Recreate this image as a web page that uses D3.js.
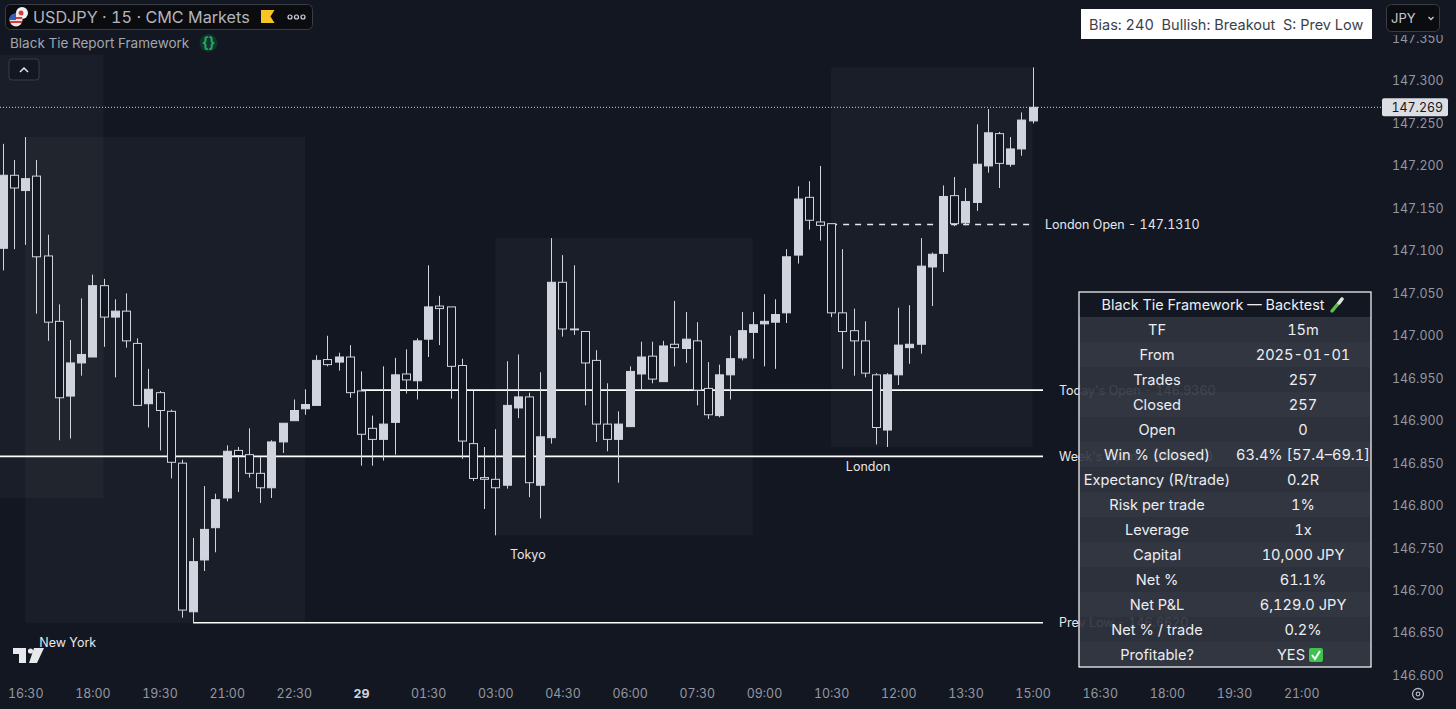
<!DOCTYPE html>
<html lang="en">
<head>
<meta charset="utf-8">
<script src="https://d3js.org/d3.v7.min.js"></script>
<style>
    html, body { margin: 0; padding: 0; background: #131722; overflow: hidden; }
    text { font-family: Inter, "Noto Sans", sans-serif; font-variant-numeric: tabular-nums; }
</style>
</head>
<body>
<div id="chart"></div>
<script>
// 15 minute bars, first one sits two bars left of the 16:30 tick
var firstBar = -2;
var opens = [
    147.103,147.189,147.171,147.188,147.094,147.017,146.929,146.968,146.975,147.059,
    147.022,147.029,146.991,146.920,146.933,146.911,146.850,146.675,146.736,146.774,
    146.809,146.865,146.860,146.838,146.821,146.875,146.900,146.914,146.918,146.972,
    146.969,146.975,146.935,146.891,146.878,146.898,146.955,146.947,146.996,147.035,
    147.034,146.965,146.873,146.833,146.831,146.824,146.915,146.928,146.824,146.880,
    147.063,147.008,147.005,146.971,146.896,146.878,146.893,146.955,146.976,146.946,
    146.990,146.985,146.994,146.938,146.906,146.954,146.974,147.004,147.014,147.016,
    147.027,147.095,147.163,147.134,147.132,147.027,147.006,146.994,146.954,146.889,
    146.954,146.986,146.990,147.081,147.097,147.165,147.133,147.157,147.200,147.238,
    147.202,147.220,147.253];
var highs = [
    147.226,147.207,147.234,147.207,147.119,147.037,146.995,147.044,147.072,147.067,
    147.043,147.050,146.997,146.961,146.935,146.913,146.854,146.762,146.823,146.814,
    146.871,146.869,146.891,146.857,146.877,146.897,146.925,146.937,146.977,147.000,
    146.980,146.989,146.958,146.906,146.964,146.974,146.984,146.997,147.083,147.047,
    147.034,146.973,146.935,146.869,146.890,146.970,146.978,146.933,146.957,147.115,
    147.095,147.083,147.005,146.983,146.944,146.911,146.964,146.993,146.993,146.994,
    147.041,147.028,147.016,146.969,146.966,147.000,147.028,147.028,147.049,147.043,
    147.102,147.176,147.182,147.200,147.132,147.102,147.032,147.017,146.956,146.956,
    147.033,147.036,147.115,147.098,147.177,147.187,147.174,147.249,147.267,147.240,
    147.234,147.263,147.316];
var lows = [
    147.077,147.102,147.107,147.026,146.994,146.877,146.879,146.953,146.975,146.987,
    146.951,146.986,146.918,146.892,146.865,146.832,146.668,146.662,146.723,146.745,
    146.805,146.816,146.833,146.803,146.809,146.862,146.900,146.907,146.918,146.964,
    146.959,146.927,146.847,146.847,146.853,146.860,146.932,146.925,146.975,146.989,
    146.926,146.855,146.829,146.796,146.765,146.820,146.903,146.810,146.785,146.873,
    146.999,147.001,146.918,146.875,146.864,146.827,146.893,146.936,146.944,146.946,
    146.964,146.968,146.918,146.902,146.904,146.925,146.971,146.973,146.964,146.961,
    147.015,147.085,147.125,147.112,147.022,146.961,146.953,146.951,146.872,146.869,
    146.942,146.967,146.979,147.035,147.075,147.129,147.130,147.147,147.192,147.174,
    147.199,147.212,147.250];
var closes = [
    147.189,147.174,147.185,147.093,147.016,146.927,146.968,146.978,147.059,147.022,
    147.029,146.994,146.918,146.937,146.912,146.851,146.677,146.734,146.772,146.807,
    146.864,146.859,146.838,146.821,146.875,146.897,146.912,146.919,146.971,146.966,
    146.975,146.933,146.884,146.878,146.896,146.954,146.948,146.994,147.034,147.032,
    146.964,146.876,146.832,146.831,146.821,146.918,146.928,146.827,146.881,147.063,
    147.008,147.007,146.968,146.896,146.878,146.896,146.958,146.975,146.949,146.988,
    146.986,146.996,146.936,146.907,146.954,146.973,147.006,147.013,147.017,147.025,
    147.093,147.161,147.136,147.130,147.027,147.005,146.994,146.956,146.892,146.954,
    146.989,146.990,147.082,147.096,147.164,147.132,147.158,147.202,147.239,147.203,
    147.220,147.254,147.269];

// sessions: bar range and price range of each shaded box
var sessionNames = ["", "New York", "Tokyo", "London"];
var sessionStart = [-3, 0, 42, 72];
var sessionEnd = [7, 25, 65, 90];
var sessionHigh = [147.331, 147.234, 147.115, 147.316];
var sessionLow = [146.809, 146.662, 146.765, 146.869];
var sessionLabelBar = [0, 3.8, 44.9, 75.3];

// horizontal levels
var levelNames = ["Today's Open - 146.9360", "Week's Open - 146.8580", "Prev Low - 146.6620"];
var levelPrice = [146.936, 146.858, 146.662];
var levelStart = [30, -3, 15];
var londonOpenPrice = 147.131;
var lastPrice = 147.269;

var priceTicks = [147.35,147.3,147.25,147.2,147.15,147.1,147.05,147,146.95,146.9,146.85,146.8,146.75,146.7,146.65,146.6];
var timeBars = [0,6,12,18,24,30,36,42,48,54,60,66,72,78,84,90,96,102,108,114];
var timeLabels = ["16:30","18:00","19:30","21:00","22:30","29","01:30","03:00","04:30","06:00","07:30","09:00","10:30","12:00","13:30","15:00","16:30","18:00","19:30","21:00"];

var tableTitle = "Black Tie Framework \u2014 Backtest";
var tableLabels = ["TF","From","Trades","Closed","Open","Win % (closed)","Expectancy (R/trade)","Risk per trade","Leverage","Capital","Net %","Net P&L","Net % / trade","Profitable?"];
var tableValues = ["15m","2025-01-01","257","257","0","63.4% [57.4\u201369.1]","0.2R","1%","1x","10,000 JPY","61.1%","6,129.0 JPY","0.2%","YES"];

var width = 1456, height = 709;
var bg = "#131722", candle = "#d1d4dc", axisText = "#9598a1";

var svg = d3.select("#chart").append("svg")
    .attr("width", width)
    .attr("height", height)
    .style("display", "block");

var x = d3.scaleLinear().domain([0, 90]).range([25.2, 1032.6]);
var y = d3.scaleLinear().domain([147.3, 146.65]).range([81, 633]);

svg.append("rect").attr("width", width).attr("height", height).attr("fill", bg);

// session boxes
svg.append("g").selectAll("rect")
    .data(sessionNames)
    .enter().append("rect")
    .attr("x", function(d, i) { return x(sessionStart[i]); })
    .attr("width", function(d, i) { return x(sessionEnd[i]) - x(sessionStart[i]); })
    .attr("y", function(d, i) { return y(sessionHigh[i]); })
    .attr("height", function(d, i) { return y(sessionLow[i]) - y(sessionHigh[i]); })
    .attr("fill", "#ffffff")
    .attr("fill-opacity", 0.032);

svg.append("g").selectAll("text")
    .data(sessionNames)
    .enter().append("text")
    .attr("x", function(d, i) { return x(sessionLabelBar[i]); })
    .attr("y", function(d, i) { return y(sessionLow[i]) + 24; })
    .attr("text-anchor", "middle")
    .attr("fill", "#e6e7ea")
    .style("font-size", "12.5px")
    .text(function(d) { return d; });

// level lines sit behind the candles
var levels = svg.append("g");
levelNames.forEach(function(name, i) {
    levels.append("line")
        .attr("x1", x(levelStart[i])).attr("x2", 1043)
        .attr("y1", y(levelPrice[i])).attr("y2", y(levelPrice[i]))
        .attr("stroke", "#ffffff").attr("stroke-width", 1.6);
    levels.append("text")
        .attr("x", 1059).attr("y", y(levelPrice[i]) + 4.5)
        .attr("fill", "#e6e7ea")
        .style("font-size", "12.5px")
        .text(name);
});
levels.append("line")
    .attr("x1", x(72)).attr("x2", x(90))
    .attr("y1", y(londonOpenPrice)).attr("y2", y(londonOpenPrice))
    .attr("stroke", "#e6e7ea").attr("stroke-width", 1.4)
    .attr("stroke-dasharray", "6 6");
levels.append("text")
    .attr("x", 1045).attr("y", y(londonOpenPrice) + 4.5)
    .attr("fill", "#e6e7ea")
    .style("font-size", "12.5px")
    .text("London Open - 147.1310");

// last price
svg.append("line")
    .attr("x1", 0).attr("x2", 1382)
    .attr("y1", y(lastPrice)).attr("y2", y(lastPrice))
    .attr("stroke", "#d1d4dc").attr("stroke-width", 1)
    .attr("stroke-dasharray", "1 2");

// candles
var bars = svg.append("g").selectAll("g")
    .data(opens)
    .enter().append("g");

bars.append("line")
    .attr("x1", function(d, i) { return Math.round(x(i + firstBar)) + 0.5; })
    .attr("x2", function(d, i) { return Math.round(x(i + firstBar)) + 0.5; })
    .attr("y1", function(d, i) { return y(highs[i]); })
    .attr("y2", function(d, i) { return y(lows[i]); })
    .attr("stroke", candle);

bars.append("rect")
    .attr("x", function(d, i) { return Math.round(x(i + firstBar)) - 3.5; })
    .attr("width", 8)
    .attr("y", function(d, i) { return y(Math.max(d, closes[i])); })
    .attr("height", function(d, i) { return Math.abs(y(d) - y(closes[i])); })
    .attr("fill", function(d, i) { return closes[i] >= d ? candle : bg; })
    .attr("stroke", candle)
    .attr("stroke-width", 1);

// price axis, top and bottom labels are cut by the dropdown and the time axis
svg.append("clipPath").attr("id", "priceClip")
    .append("rect").attr("x", -12).attr("y", 35).attr("width", 76).attr("height", 645);

var yAxis = svg.append("g")
    .attr("transform", "translate(1392,0)")
    .attr("clip-path", "url(#priceClip)")
    .call(d3.axisRight(y).tickValues(priceTicks).tickFormat(d3.format(".3f")).tickSize(0).tickPadding(0));
yAxis.select(".domain").remove();
yAxis.selectAll("text")
    .attr("fill", axisText)
    .style("font-size", "12.4px")
    .style("font-family", "Inter, sans-serif")
    .style("font-variant-numeric", "tabular-nums");

// time axis
var xAxis = svg.append("g")
    .attr("transform", "translate(0,689)")
    .call(d3.axisBottom(x).tickValues(timeBars)
        .tickFormat(function(d, i) { return timeLabels[i]; })
        .tickSize(0).tickPadding(0));
xAxis.select(".domain").remove();
xAxis.selectAll("text")
    .attr("fill", function(d) { return d === 30 ? "#d1d4dc" : axisText; })
    .style("font-size", "12.4px")
    .style("font-weight", function(d) { return d === 30 ? 700 : 400; })
    .style("font-family", "Inter, sans-serif")
    .style("font-variant-numeric", "tabular-nums");

// price tag
svg.append("rect")
    .attr("x", 1382).attr("y", y(lastPrice) - 9).attr("width", 66).attr("height", 18)
    .attr("rx", 2).attr("fill", "#dcdee3");
svg.append("text")
    .attr("x", 1443).attr("y", y(lastPrice) + 4.5)
    .attr("text-anchor", "end")
    .attr("fill", "#131722")
    .style("font-size", "12.4px")
    .text(d3.format(".3f")(lastPrice));

// backtest table
var table = svg.append("g").attr("transform", "translate(1079,292)");
var rowH = 25;
table.append("rect")
    .attr("width", 292).attr("height", 25)
    .attr("fill", "#131722");
table.selectAll(".row")
    .data(tableLabels)
    .enter().append("rect")
    .attr("class", "row")
    .attr("y", function(d, i) { return 25 + i * rowH; })
    .attr("width", 292).attr("height", rowH)
    .attr("fill", function(d, i) { return i % 2 ? "#353944" : "#30343f"; })
    .attr("fill-opacity", 0.92);
table.append("rect")
    .attr("width", 292).attr("height", 375)
    .attr("fill", "none").attr("stroke", "#ffffff").attr("stroke-width", 1.2);
table.append("text")
    .attr("x", 134).attr("y", 18)
    .attr("text-anchor", "middle")
    .attr("fill", "#eceef1")
    .style("font-size", "14.4px")
    .text(tableTitle);
// test tube icon after the title
table.append("line")
    .attr("x1", 253).attr("y1", 19).attr("x2", 263).attr("y2", 7)
    .attr("stroke", "#5fbf4a").attr("stroke-width", 3.4).attr("stroke-linecap", "round");
table.append("line")
    .attr("x1", 260).attr("y1", 11).attr("x2", 263).attr("y2", 7)
    .attr("stroke", "#dfe5e0").attr("stroke-width", 3.4).attr("stroke-linecap", "round");

table.selectAll(".lab")
    .data(tableLabels)
    .enter().append("text")
    .attr("class", "lab")
    .attr("x", 78).attr("y", function(d, i) { return 25 + i * rowH + 18; })
    .attr("text-anchor", "middle")
    .attr("fill", "#eceef1")
    .style("font-size", "14.6px")
    .text(function(d) { return d; });
table.selectAll(".val")
    .data(tableValues)
    .enter().append("text")
    .attr("class", "val")
    .attr("x", function(d, i) { return i === 13 ? 212 : 224; })
    .attr("y", function(d, i) { return 25 + i * rowH + 18; })
    .attr("text-anchor", "middle")
    .attr("fill", "#eceef1")
    .style("font-size", "14.6px")
    .text(function(d) { return d; });
// green check
table.append("rect")
    .attr("x", 230).attr("y", 356).attr("width", 14).attr("height", 14)
    .attr("rx", 2).attr("fill", "#3fc14f");
table.append("path")
    .attr("d", "M233,363 L236,367 L241,359")
    .attr("fill", "none").attr("stroke", "#ffffff").attr("stroke-width", 2);

// bias box
svg.append("rect")
    .attr("x", 1081).attr("y", 9).attr("width", 291).attr("height", 30)
    .attr("fill", "#ffffff");
svg.append("text")
    .attr("x", 1089).attr("y", 30)
    .attr("fill", "#3c3f4a")
    .style("font-size", "14.5px")
    .style("white-space", "pre")
    .text("Bias: 240  Bullish: Breakout  S: Prev Low");

// currency dropdown
svg.append("rect")
    .attr("x", 1386.5).attr("y", 4.5).attr("width", 53).attr("height", 27).attr("rx", 5)
    .attr("fill", "#0b0c0f").attr("stroke", "#3a3d45");
svg.append("text")
    .attr("x", 1391).attr("y", 23)
    .attr("fill", "#c8cad0")
    .style("font-size", "13px")
    .text("JPY");
svg.append("path")
    .attr("d", "M1439.5,17 m-11,0 l2.5,2.5 l2.5,-2.5")
    .attr("fill", "none").attr("stroke", "#c8cad0").attr("stroke-width", 1.3);

// symbol header
svg.append("rect")
    .attr("x", 5.5).attr("y", 4.5).attr("width", 307).attr("height", 25).attr("rx", 5)
    .attr("fill", "#0b0c0f").attr("stroke", "#3a3d45");
svg.append("circle").attr("cx", 22).attr("cy", 13).attr("r", 6).attr("fill", "#f3f3f3");
svg.append("circle").attr("cx", 21).attr("cy", 13).attr("r", 2.5).attr("fill", "#d83a3a");
svg.append("circle").attr("cx", 16).attr("cy", 20).attr("r", 6.5).attr("fill", "#e8e8ea");
svg.append("path").attr("d", "M9.8,18 h12.4 M10,22 h12").attr("stroke", "#d83a3a").attr("stroke-width", 1.8);
svg.append("path").attr("d", "M16,13.5 a6.5,6.5 0 0 0 -6.5,6.5 h6.5 z").attr("fill", "#2d5cc8");
svg.append("text")
    .attr("x", 33).attr("y", 23)
    .attr("fill", "#b2b5be")
    .style("font-size", "16.2px")
    .text("USDJPY \u00b7 15 \u00b7 CMC Markets");
svg.append("path")
    .attr("d", "M261,10 h13.5 l-4,6.5 l4,6.5 h-13.5 z")
    .attr("fill", "#f7c325");
[290, 296.5, 303].forEach(function(cx) {
    svg.append("circle").attr("cx", cx).attr("cy", 17).attr("r", 2)
        .attr("fill", "none").attr("stroke", "#d1d4dc").attr("stroke-width", 1.2);
});

svg.append("text")
    .attr("x", 10).attr("y", 47.5)
    .attr("fill", "#a3a6af")
    .style("font-size", "13.5px")
    .text("Black Tie Report Framework");
svg.append("circle").attr("cx", 208.5).attr("cy", 43).attr("r", 9).attr("fill", "#12332d");
svg.append("text")
    .attr("x", 208.5).attr("y", 48)
    .attr("text-anchor", "middle")
    .attr("fill", "#22ab5e")
    .style("font-size", "15px")
    .style("font-weight", 700)
    .text("{}");

// collapse button
svg.append("rect")
    .attr("x", 9).attr("y", 59).attr("width", 30).attr("height", 21).attr("rx", 3)
    .attr("fill", "#131722").attr("stroke", "#3a3d45");
svg.append("path")
    .attr("d", "M20,72 l4,-4 l4,4")
    .attr("fill", "none").attr("stroke", "#e6e7ea").attr("stroke-width", 1.5);

// tradingview mark
svg.append("path")
    .attr("d", "M13,648 h13 v15 h-7 v-9 h-6 z M34,648 h10 l-7,15 h-8 z")
    .attr("fill", "#e8e9ec");
svg.append("circle").attr("cx", 30.5).attr("cy", 651).attr("r", 2.6).attr("fill", "#e8e9ec");

// settings gear
svg.append("circle").attr("cx", 1418).attr("cy", 694).attr("r", 5.5)
    .attr("fill", "none").attr("stroke", "#b2b5be").attr("stroke-width", 1.3);
svg.append("circle").attr("cx", 1418).attr("cy", 694).attr("r", 1.8)
    .attr("fill", "none").attr("stroke", "#b2b5be").attr("stroke-width", 1.2);
</script>
</body>
</html>
